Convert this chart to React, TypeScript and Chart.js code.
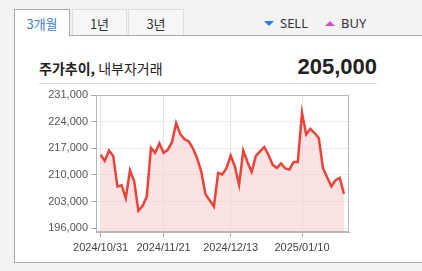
import React, { useEffect, useRef } from "react";
import { Chart, registerables } from "chart.js";

Chart.register(...registerables);

const dates = [
  "2024/10/31",
  "2024/11/01", "2024/11/04", "2024/11/05", "2024/11/06", "2024/11/07", "2024/11/08",
  "2024/11/11", "2024/11/12", "2024/11/13", "2024/11/14", "2024/11/15", "2024/11/18",
  "2024/11/19", "2024/11/20", "2024/11/21", "2024/11/22", "2024/11/25", "2024/11/26",
  "2024/11/27", "2024/11/28", "2024/11/29",
  "2024/12/02", "2024/12/03", "2024/12/04", "2024/12/05", "2024/12/06", "2024/12/09",
  "2024/12/10", "2024/12/11", "2024/12/12", "2024/12/13", "2024/12/16", "2024/12/17",
  "2024/12/18", "2024/12/19", "2024/12/20", "2024/12/23", "2024/12/24", "2024/12/26",
  "2024/12/27", "2024/12/30",
  "2025/01/02", "2025/01/03", "2025/01/06", "2025/01/07", "2025/01/08", "2025/01/09",
  "2025/01/10", "2025/01/13", "2025/01/14", "2025/01/15", "2025/01/16", "2025/01/17",
  "2025/01/20", "2025/01/21", "2025/01/22", "2025/01/23", "2025/01/24",
];

const prices = [
  215300, 213700, 216400, 215000, 207000, 207300, 203900, 211200, 208300, 200600,
  201800, 204300, 217100, 215800, 218300, 215800, 216600, 218600, 223600, 220700,
  219400, 218800, 217000, 214400, 210800, 204900, 203300, 201700, 210500, 210100,
  211800, 215100, 212200, 207400, 216400, 213400, 210800, 215000, 216200, 217300,
  215300, 212700, 211800, 213000, 211700, 211400, 213400, 213400, 226300, 220600,
  222100, 221000, 219700, 211800, 209300, 207000, 208600, 209200, 205000,
];

const xTickLabels = ["2024/10/31", "2024/11/21", "2024/12/13", "2025/01/10"];
const yTickValues = [196000, 203000, 210000, 217000, 224000, 231000];
const currentPrice = "205,000";

const framePlugin = {
  id: "frame",
  afterDraw(chart: any) {
    const { ctx, chartArea } = chart;
    ctx.save();
    ctx.strokeStyle = "#b8b8b8";
    ctx.lineWidth = 1;
    ctx.strokeRect(
      Math.round(chartArea.left) + 0.5,
      Math.round(chartArea.top) + 0.5,
      Math.round(chartArea.right - chartArea.left) - 1,
      Math.round(chartArea.bottom - chartArea.top) - 1
    );
    ctx.restore();
  },
};

function PriceChart() {
  const ref = useRef<HTMLCanvasElement | null>(null);
  useEffect(() => {
    if (!ref.current) return;
    const chart = new Chart(ref.current, {
      type: "line",
      data: {
        datasets: [
          {
            data: prices.map((p, i) => ({ x: i, y: p })),
            borderColor: "#e8443a",
            borderWidth: 2.5,
            backgroundColor: "rgba(250, 200, 200, 0.5)",
            fill: "start",
            pointRadius: 0,
            tension: 0,
          },
        ],
      },
      options: {
        animation: false,
        responsive: false,
        layout: { padding: { left: 0, right: 73, top: 10, bottom: 0 } },
        plugins: { legend: { display: false }, tooltip: { enabled: false } },
        scales: {
          x: {
            type: "linear",
            min: -1.1,
            max: 59.2,
            afterBuildTicks: (scale: any) => {
              scale.ticks = xTickLabels.map((l) => ({ value: dates.indexOf(l) }));
            },
            afterFit: (scale: any) => {
              scale.height = 33;
            },
            ticks: {
              autoSkip: false,
              maxRotation: 0,
              padding: 4,
              color: "#444",
              font: { family: "'Liberation Sans', Arial, sans-serif", size: 11 },
              callback: (v: any) => dates[v as number],
            },
            grid: { color: "#e6e6e6", tickLength: 5, tickColor: "#aaa" },
            border: { color: "#b8b8b8" },
          },
          y: {
            min: 195000,
            max: 231000,
            afterBuildTicks: (scale: any) => {
              scale.ticks = yTickValues.map((v) => ({ value: v }));
            },
            afterFit: (scale: any) => {
              scale.width = 96;
            },
            ticks: {
              padding: 3,
              color: "#555",
              font: { family: "'Liberation Sans', Arial, sans-serif", size: 11 },
              callback: (v: any) => Number(v).toLocaleString("en-US"),
            },
            grid: { color: "#ececec", tickLength: 5, tickColor: "#aaa" },
            border: { color: "#b8b8b8" },
          },
        },
      },
      plugins: [framePlugin],
    });
    return () => chart.destroy();
  }, []);
  return (
    <canvas
      ref={ref}
      width={422}
      height={180}
      style={{ position: "absolute", left: 0, top: 85, width: 422, height: 180 }}
    />
  );
}

const korean = "'Noto Sans CJK KR', 'Noto Sans', sans-serif";

export default function App() {
  const tabBase: React.CSSProperties = {
    position: "absolute",
    top: 9,
    height: 27,
    boxSizing: "border-box",
    display: "flex",
    alignItems: "center",
    justifyContent: "center",
    fontFamily: korean,
    fontSize: 13,
  };
  return (
    <div
      style={{
        position: "fixed",
        left: 0,
        top: 0,
        width: 422,
        height: 271,
        background: "#f3f3f3",
        overflow: "hidden",
      }}
    >
      {/* tabs */}
      <div
        style={{
          ...tabBase,
          left: 14,
          width: 56,
          border: "1px solid #aaa",
          borderBottom: "none",
          background: "#fff",
          color: "#3d7cc9",
          zIndex: 2,
        }}
      >
        3개월
      </div>
      <div
        style={{
          ...tabBase,
          left: 72,
          width: 55,
          border: "1px solid #ddd",
          borderBottom: "none",
          background: "#f6f6f6",
          color: "#333",
        }}
      >
        1년
      </div>
      <div
        style={{
          ...tabBase,
          left: 128,
          width: 56,
          border: "1px solid #ddd",
          borderBottom: "none",
          background: "#f6f6f6",
          color: "#333",
        }}
      >
        3년
      </div>
      {/* legend */}
      <div
        style={{
          position: "absolute",
          left: 264,
          top: 21,
          width: 0,
          height: 0,
          borderLeft: "5.5px solid transparent",
          borderRight: "5.5px solid transparent",
          borderTop: "5.5px solid #2f7be0",
        }}
      />
      <div
        style={{
          position: "absolute",
          left: 280,
          top: 13,
          fontFamily: "'Noto Sans', sans-serif",
          fontSize: 13,
          color: "#333",
          lineHeight: "20px",
        }}
      >
        SELL
      </div>
      <div
        style={{
          position: "absolute",
          left: 325,
          top: 21,
          width: 0,
          height: 0,
          borderLeft: "5.5px solid transparent",
          borderRight: "5.5px solid transparent",
          borderBottom: "5.5px solid #d94ec8",
        }}
      />
      <div
        style={{
          position: "absolute",
          left: 341,
          top: 13,
          fontFamily: "'Noto Sans', sans-serif",
          fontSize: 13,
          color: "#333",
          lineHeight: "20px",
        }}
      >
        BUY
      </div>
      {/* main box */}
      <div
        style={{
          position: "absolute",
          left: 14,
          top: 35,
          width: 420,
          height: 228,
          boxSizing: "border-box",
          background: "#fff",
          border: "1px solid #aaa",
          zIndex: 1,
        }}
      />
      <div style={{ position: "absolute", left: 0, top: 0, width: 422, height: 271, zIndex: 3 }}>
        <div
          style={{
            position: "absolute",
            left: 39,
            top: 58,
            fontFamily: korean,
            fontSize: 14,
            lineHeight: "20px",
            color: "#222",
            whiteSpace: "nowrap",
          }}
        >
          <span style={{ fontWeight: "bold" }}>주가추이,</span> 내부자거래
        </div>
        <div
          style={{
            position: "absolute",
            right: 422 - 377,
            top: 55,
            fontFamily: "'Liberation Sans', Arial, sans-serif",
            fontWeight: "bold",
            fontSize: 22,
            lineHeight: "24px",
            color: "#222",
          }}
        >
          {currentPrice}
        </div>
        <div
          style={{
            position: "absolute",
            left: 39,
            top: 83,
            width: 338,
            height: 1,
            background: "#dcdcdc",
          }}
        />
        <PriceChart />
      </div>
    </div>
  );
}
